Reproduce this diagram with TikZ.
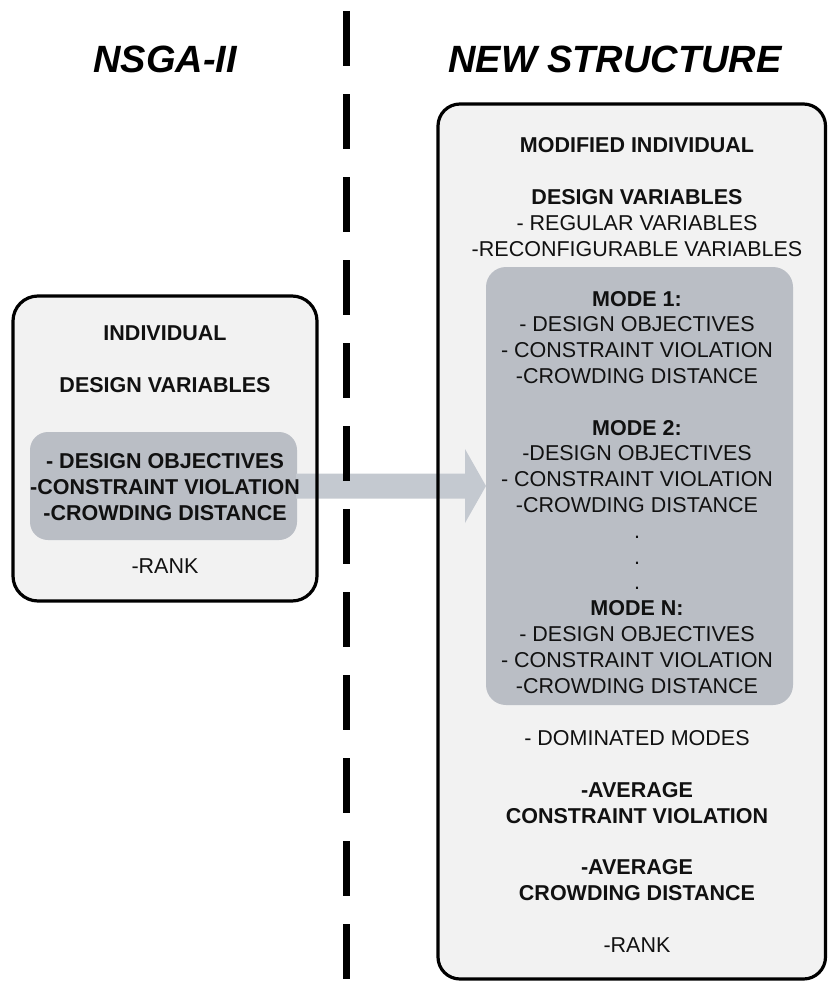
\documentclass[tikz,border=0pt]{standalone}
\usepackage{fontspec}
\setmainfont{Liberation Sans}
\usetikzlibrary{calc}
\definecolor{panelfill}{RGB}{242,242,242}
\definecolor{groupfill}{RGB}{186,190,197}
\definecolor{arrowfill}{RGB}{196,201,208}
\definecolor{inkblack}{RGB}{17,17,17}
\begin{document}
\begin{tikzpicture}[x=1pt,y=-1pt,
  panelbg/.style={rectangle, fill=panelfill, draw=none, inner sep=0pt, outer sep=0pt, rounded corners=#1},
  groupbg/.style={rectangle, fill=groupfill, draw=none, inner sep=0pt, outer sep=0pt, rounded corners=#1},
  border/.style={draw=black, line width=3.2pt, rounded corners=#1},
  % anchored at the baseline of the last line of each block
  txt/.style={align=center, anchor=base, inner sep=0pt, text=inkblack,
    font=\fontsize{21.5}{25.8}\selectfont},
  headline/.style={anchor=base, inner sep=0pt, text=black,
    font=\fontsize{38}{44}\selectfont\bfseries\itshape},
  divider/.style={line width=7.5pt, dash pattern=on 55pt off 28pt}
]
\useasboundingbox (0,0) rectangle (828,982);

% column headings
\node[headline] (hleft)  at (165,72) {NSGA-II};
\node[headline] (hright) at (615,72) {NEW STRUCTURE};

% panel backgrounds
\node[panelbg=25, minimum width=304pt, minimum height=305pt] (lbox) at (165,448.5) {};
\node[panelbg=22, minimum width=387.5pt, minimum height=875pt] (rbox) at (631.75,541.5) {};
\node[groupbg=18, minimum width=267pt, minimum height=108pt] (lin) at (163.5,486) {};
\node[groupbg=20, minimum width=307pt, minimum height=438pt] (rin) at (639.5,486) {};

% block arrow from the old structure to the new one
\coordinate (tip) at (rin.west |- lin.east);
\fill[arrowfill] ($(lin.east)+(-1,-12.5)$) -- ($(tip)+(-21,-12.5)$) -- ($(tip)+(-21,-37)$)
  -- (tip) -- ($(tip)+(-21,37)$) -- ($(tip)+(-21,12.5)$) -- ($(lin.east)+(-1,12.5)$) -- cycle;

% panel outlines
\draw[border=25] (lbox.north west) rectangle (lbox.south east);
\draw[border=22] (rbox.north west) rectangle (rbox.south east);

% dashed divider
\coordinate (divtop) at (346.5,11);
\coordinate (divbot) at (346.5,990);
\draw[divider] (divtop) -- (divbot);

% NSGA-II individual
\node[txt] (ltop) at (165,392) {\textbf{INDIVIDUAL}\\[25.8pt]\textbf{DESIGN VARIABLES}};
\node[txt] (lmid) at (165,520) {\textbf{- DESIGN OBJECTIVES}\\\textbf{-CONSTRAINT VIOLATION}\\\textbf{-CROWDING DISTANCE}};
\node[txt] (lrank) at (165,573) {-RANK};

% modified individual
\node[txt] (rtop) at (637,256) {\textbf{MODIFIED INDIVIDUAL}\\[25.8pt]\textbf{DESIGN VARIABLES}\\- REGULAR VARIABLES\\-RECONFIGURABLE VARIABLES};
\node[txt] (rmodes) at (637,693) {\textbf{MODE 1:}\\- DESIGN OBJECTIVES\\- CONSTRAINT VIOLATION\\-CROWDING DISTANCE\\[25.8pt]%
  \textbf{MODE 2:}\\-DESIGN OBJECTIVES\\- CONSTRAINT VIOLATION\\-CROWDING DISTANCE\\.\\.\\.\\%
  \textbf{MODE N:}\\- DESIGN OBJECTIVES\\- CONSTRAINT VIOLATION\\-CROWDING DISTANCE};
\node[txt] (rbottom) at (637,952) {- DOMINATED MODES\\[25.8pt]\textbf{-AVERAGE}\\\textbf{CONSTRAINT VIOLATION}\\[25.8pt]%
  \textbf{-AVERAGE}\\\textbf{CROWDING DISTANCE}\\[25.8pt]-RANK};
\end{tikzpicture}
\end{document}
